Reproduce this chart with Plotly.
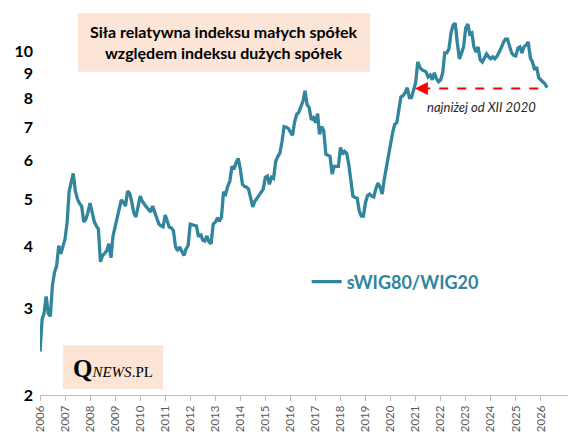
import math
import pandas as pd
import plotly.graph_objects as go

# ---- data (monthly) ----
START_MONTH = "2006-01-01"
ratio_values = [
    2.45, 2.85, 2.93, 3.17, 2.93, 2.89, 3.34, 3.55, 3.66, 4.02, 3.87, 4.00,   # 2006
    4.15, 4.49, 5.17, 5.41, 5.64, 5.19, 5.00, 4.90, 4.84, 4.49, 4.55, 4.70,   # 2007
    4.91, 4.70, 4.51, 4.41, 4.35, 3.73, 3.84, 3.88, 3.93, 4.06, 3.80, 4.21,   # 2008
    4.40, 4.56, 4.77, 4.98, 4.93, 4.84, 5.19, 5.14, 4.93, 4.68, 4.60, 4.84,   # 2009
    5.07, 4.95, 4.88, 4.82, 4.77, 4.71, 4.84, 4.71, 4.56, 4.45, 4.41, 4.39,   # 2010
    4.64, 4.51, 4.39, 4.37, 4.31, 4.00, 3.93, 4.00, 3.90, 3.84, 3.96, 4.02,   # 2011
    4.45, 4.43, 4.42, 4.41, 4.19, 4.25, 4.13, 4.11, 4.21, 4.09, 4.06, 4.45,   # 2012
    4.49, 4.58, 4.51, 4.60, 5.17, 5.12, 5.31, 5.44, 5.83, 5.75, 5.94, 6.05,   # 2013
    5.75, 5.36, 5.31, 5.29, 5.24, 5.05, 4.82, 4.95, 5.02, 5.07, 5.15, 5.24,   # 2014
    5.54, 5.57, 5.36, 5.54, 5.51, 5.97, 6.10, 6.20, 6.55, 7.02, 7.00, 6.96,   # 2015
    6.85, 6.74, 7.15, 7.43, 7.50, 7.71, 7.89, 8.30, 7.78, 7.67, 7.25, 7.32,   # 2016
    7.15, 7.46, 6.77, 7.02, 6.89, 6.17, 6.14, 6.11, 5.62, 5.83, 5.83, 5.83,   # 2017
    6.37, 6.17, 6.25, 6.20, 5.89, 5.49, 5.07, 5.04, 5.02, 4.73, 4.62, 4.62,   # 2018
    4.93, 5.09, 5.12, 5.07, 5.05, 5.25, 5.39, 5.29, 5.12, 5.49, 5.80, 6.20,   # 2019
    6.52, 6.83, 7.09, 7.15, 7.60, 8.07, 8.11, 8.23, 8.42, 8.04, 8.04, 8.34,   # 2020
    8.62, 9.50, 9.28, 9.16, 9.10, 9.07, 8.86, 8.94, 8.74, 9.03, 8.78, 8.66,   # 2021
    8.74, 9.05, 9.91, 9.91, 10.09, 10.88, 11.29, 11.39, 10.38, 9.64, 9.90, 10.19,  # 2022
    11.13, 11.34, 10.82, 10.88, 10.19, 9.95, 10.19, 9.59, 9.50, 9.70, 9.86, 9.73,  # 2023
    9.64, 9.73, 9.64, 9.75, 9.91, 10.14, 10.38, 10.57, 10.57, 10.19, 9.91, 9.80,   # 2024
    9.77, 10.14, 10.19, 9.91, 10.20, 10.28, 10.43, 9.68, 9.50, 9.16, 9.28, 8.82,   # 2025
    8.74, 8.62, 8.58, 8.42,                                                        # 2026
]
dates = pd.date_range(START_MONTH, periods=len(ratio_values), freq="MS")

x_tick_years = list(range(2006, 2027))
y_tick_values = [2, 3, 4, 5, 6, 7, 8, 9, 10]
y_tick_labels = ["2", "3", "4", "5", "6", "7", "8", "9", "10"]
series_name = "sWIG80/WIG20"
title_lines = ["Siła relatywna indeksu małych spółek", "względem indeksu dużych spółek"]
note_text = "najniżej od XII 2020"

TEAL = "#31859C"
PEACH = "#FCE4D6"
FONT = "Lato"

fig = go.Figure()
fig.add_trace(go.Scatter(
    x=dates, y=ratio_values, mode="lines", name=series_name,
    line=dict(color=TEAL, width=3.3),
))

fig.update_layout(
    width=585, height=444,
    margin=dict(l=40, r=17, t=12, b=47),
    paper_bgcolor="white", plot_bgcolor="white",
    font=dict(family=FONT, color="#000000"),
    showlegend=True,
    legend=dict(
        x=0.505, y=0.295, xanchor="left", yanchor="middle",
        bgcolor="rgba(0,0,0,0)", borderwidth=0,
        font=dict(size=18, color=TEAL, weight="bold", family=FONT),
        itemwidth=30,
    ),
    xaxis=dict(
        type="date",
        range=["2006-01-01", "2027-02-01"],
        tickmode="array",
        tickvals=[f"{y}-01-01" for y in x_tick_years],
        ticktext=[str(y) for y in x_tick_years],
        tickangle=-90,
        ticks="outside", ticklen=5, tickcolor="#BFBFBF",
        showline=True, linecolor="#BFBFBF", linewidth=1,
        showgrid=False, zeroline=False,
        tickfont=dict(size=11.5, color="#595959", family=FONT),
    ),
    yaxis=dict(
        type="log",
        range=[math.log10(2), math.log10(12)],
        tickvals=y_tick_values, ticktext=y_tick_labels,
        showgrid=False, showline=False, zeroline=False,
        ticks="", ticklabelstandoff=6,
        tickfont=dict(size=16, color="#000000", weight="bold", family=FONT),
    ),
)

# title box
fig.add_shape(type="rect", xref="paper", yref="paper",
              x0=0.072, x1=0.625, y0=0.844, y1=0.997,
              fillcolor=PEACH, line=dict(width=0), layer="below")
fig.add_annotation(xref="paper", yref="paper", x=0.348, y=0.922,
                   xanchor="center", yanchor="middle",
                   text="<br>".join(title_lines), showarrow=False,
                   font=dict(size=16, color="#000000", weight="bold", family=FONT),
                   align="center")

# logo box
fig.add_shape(type="rect", xref="paper", yref="paper",
              x0=0.0436, x1=0.233, y0=0.0156, y1=0.13,
              fillcolor=PEACH, line=dict(width=0), layer="below")
fig.add_annotation(xref="paper", yref="paper", x=0.138, y=0.070,
                   xanchor="center", yanchor="middle",
                   text="<b><span style='font-size:25px'>Q</span></b><i>NEWS</i>.PL",
                   showarrow=False,
                   font=dict(size=15, color="#000000", family="Liberation Serif"))

# red dashed arrow + note
fig.add_shape(type="line", xref="paper", yref="paper",
              x0=0.722, x1=0.960, y0=0.800, y1=0.800,
              line=dict(color="#FF0000", width=2, dash="dash"))
fig.add_annotation(xref="paper", yref="paper", x=0.710, y=0.800,
                   ax=12, ay=0, text="", showarrow=True,
                   arrowhead=2, arrowsize=1.3, arrowwidth=2, arrowcolor="#FF0000")
fig.add_annotation(xref="paper", yref="paper", x=0.837, y=0.753,
                   xanchor="center", yanchor="middle",
                   text=f"<i>{note_text}</i>", showarrow=False,
                   font=dict(size=13, color="#262626", family=FONT))

fig.write_html("out.html")
